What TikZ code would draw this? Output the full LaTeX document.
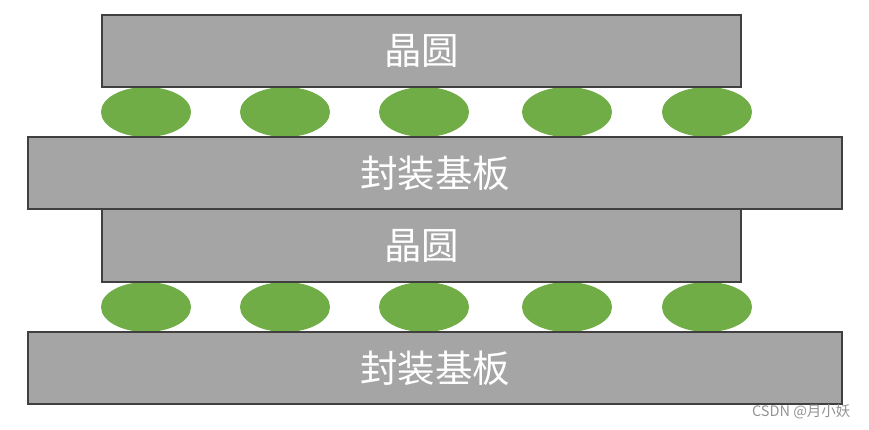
\documentclass[tikz,border=0pt]{standalone}
\usepackage{fontspec}
\newfontfamily\cjk{Noto Sans CJK SC}
\definecolor{boxgray}{HTML}{A5A5A5}
\definecolor{boxedge}{HTML}{404040}
\definecolor{ballgreen}{HTML}{70AD47}
\tikzset{
  layer/.style={draw=boxedge, line width=2pt, fill=boxgray, text=white, inner sep=0pt,
    font=\cjk\fontsize{37.5}{44}\selectfont},
  ball/.style={fill=ballgreen, draw=none},
}
\begin{document}
\begin{tikzpicture}[x=1pt,y=-1pt]
\useasboundingbox (0,0) rectangle (869,430);
% balls
\foreach \cx/\n in {146/a,285/b,424/c,567/d,707/e}{
  \fill[ball] (\cx,112) ellipse [x radius=45, y radius=25];
  \fill[ball] (\cx,307) ellipse [x radius=45, y radius=25];
}
\node[layer, minimum width=639pt, minimum height=72pt] (w1) at (421.5,51) {晶圆};
\node[layer, minimum width=814pt, minimum height=72pt] (s1) at (435,173) {封装基板};
\node[layer, minimum width=639pt, minimum height=73pt] (w2) at (421.5,245.5) {晶圆};
\node[layer, minimum width=814pt, minimum height=72pt] (s2) at (435,368) {封装基板};
\node[text=gray!85, font=\cjk\fontsize{14.5}{17}\selectfont, anchor=east] (wm) at (854,412) {CSDN @月小妖};
\end{tikzpicture}
\end{document}
